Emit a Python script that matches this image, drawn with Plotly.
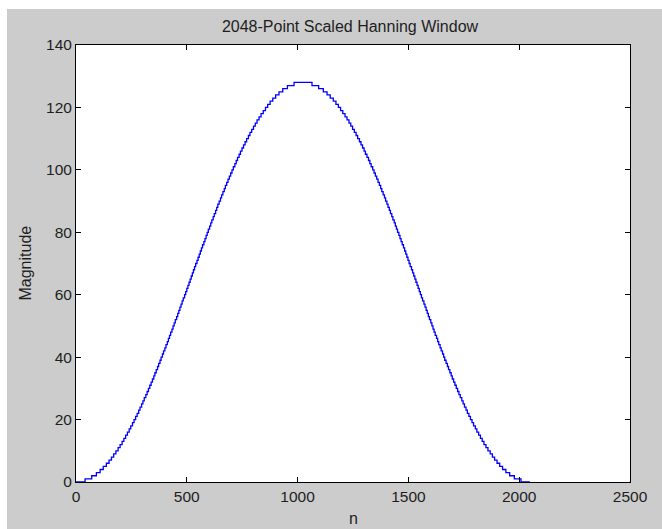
import plotly.graph_objects as go

# Sample index where each new (integer) magnitude level begins
step_n = [
    0, 41, 71, 92, 109, 123, 137, 149, 160, 170, 180, 190, 199, 208, 216, 224, 232, 240, 247, 255,
    262, 269, 276, 283, 289, 296, 302, 308, 315, 321, 327, 333, 339, 345, 351, 356, 362, 368, 373,
    379, 384, 390, 395, 401, 406, 412, 417, 422, 427, 433, 438, 443, 448, 454, 459, 464, 469, 474,
    479, 484, 490, 495, 500, 505, 510, 515, 520, 525, 530, 535, 540, 546, 551, 556, 561, 566, 571,
    577, 582, 587, 592, 597, 603, 608, 613, 619, 624, 630, 635, 640, 646, 652, 657, 663, 669, 674,
    680, 686, 692, 698, 704, 710, 717, 723, 729, 736, 742, 749, 756, 763, 770, 778, 785, 793, 801,
    809, 817, 826, 835, 845, 855, 865, 876, 888, 901, 916, 933, 954, 984,
    1065, 1095, 1116, 1133, 1147, 1161, 1173, 1184, 1194, 1204, 1214, 1223, 1232, 1240, 1248, 1256,
    1264, 1271, 1279, 1286, 1293, 1300, 1306, 1313, 1320, 1326, 1332, 1339, 1345, 1351, 1357, 1363,
    1369, 1375, 1380, 1386, 1392, 1397, 1403, 1408, 1414, 1419, 1425, 1430, 1436, 1441, 1446, 1451,
    1457, 1462, 1467, 1472, 1478, 1483, 1488, 1493, 1498, 1503, 1508, 1514, 1519, 1524, 1529, 1534,
    1539, 1544, 1549, 1554, 1559, 1564, 1570, 1575, 1580, 1585, 1590, 1595, 1601, 1606, 1611, 1616,
    1621, 1627, 1632, 1637, 1643, 1648, 1654, 1659, 1664, 1670, 1676, 1681, 1687, 1693, 1698, 1704,
    1710, 1716, 1722, 1728, 1734, 1741, 1747, 1753, 1760, 1766, 1773, 1780, 1787, 1794, 1802, 1809,
    1817, 1825, 1833, 1841, 1850, 1859, 1869, 1879, 1889, 1900, 1912, 1925, 1940, 1957, 1978, 2008,
    2048,
]

# Magnitude level held from the matching step_n onward
step_level = [
    0, 1, 2, 3, 4, 5, 6, 7, 8, 9, 10, 11, 12, 13, 14, 15, 16, 17, 18, 19,
    20, 21, 22, 23, 24, 25, 26, 27, 28, 29, 30, 31, 32, 33, 34, 35, 36, 37, 38,
    39, 40, 41, 42, 43, 44, 45, 46, 47, 48, 49, 50, 51, 52, 53, 54, 55, 56, 57,
    58, 59, 60, 61, 62, 63, 64, 65, 66, 67, 68, 69, 70, 71, 72, 73, 74, 75, 76,
    77, 78, 79, 80, 81, 82, 83, 84, 85, 86, 87, 88, 89, 90, 91, 92, 93, 94, 95,
    96, 97, 98, 99, 100, 101, 102, 103, 104, 105, 106, 107, 108, 109, 110, 111, 112, 113, 114,
    115, 116, 117, 118, 119, 120, 121, 122, 123, 124, 125, 126, 127, 128,
    127, 126, 125, 124, 123, 122, 121, 120, 119, 118, 117, 116, 115, 114, 113, 112,
    111, 110, 109, 108, 107, 106, 105, 104, 103, 102, 101, 100, 99, 98, 97, 96,
    95, 94, 93, 92, 91, 90, 89, 88, 87, 86, 85, 84, 83, 82, 81, 80,
    79, 78, 77, 76, 75, 74, 73, 72, 71, 70, 69, 68, 67, 66, 65, 64,
    63, 62, 61, 60, 59, 58, 57, 56, 55, 54, 53, 52, 51, 50, 49, 48,
    47, 46, 45, 44, 43, 42, 41, 40, 39, 38, 37, 36, 35, 34, 33, 32,
    31, 30, 29, 28, 27, 26, 25, 24, 23, 22, 21, 20, 19, 18, 17, 16,
    15, 14, 13, 12, 11, 10, 9, 8, 7, 6, 5, 4, 3, 2, 1, 0,
    0,
]

x_ticks = [0, 500, 1000, 1500, 2000, 2500]
y_ticks = [0, 20, 40, 60, 80, 100, 120, 140]

title_text = "2048-Point Scaled Hanning Window"
x_label = "n"
y_label = "Magnitude"

W, H = 662, 529
L, R, T, B = 76, 32, 45, 47
pw, ph = W - L - R, H - T - B
FONT = "Liberation Sans, Arial, sans-serif"
GRAY = "#cccccc"
TXT = "#1e1e1e"

fig = go.Figure()
fig.add_trace(go.Scatter(
    x=step_n, y=step_level, mode="lines",
    line=dict(color="#0000ff", width=1.3, shape="hv"),
    hoverinfo="skip", showlegend=False,
))

axis_common = dict(
    showgrid=False, zeroline=False, showline=True, linecolor="black", linewidth=1,
    mirror="ticks", ticks="inside", ticklen=5, tickcolor="black", tickwidth=1,
    tickfont=dict(family=FONT, size=15.5, color=TXT),
)
fig.update_xaxes(range=[0, 2500], tickvals=x_ticks, ticktext=[str(v) for v in x_ticks], **axis_common)
fig.update_yaxes(range=[0, 140], tickvals=y_ticks, ticktext=[str(v) for v in y_ticks], **axis_common)

# white strips at top and left edges (window border of the original screenshot)
fig.add_shape(type="rect", xref="paper", yref="paper",
              x0=-L / pw, x1=(W - L) / pw, y0=1 + (T - 9) / ph, y1=1 + T / ph + 0.01,
              fillcolor="white", line_width=0, layer="below")
fig.add_shape(type="rect", xref="paper", yref="paper",
              x0=-L / pw - 0.01, x1=(7 - L) / pw, y0=-B / ph - 0.01, y1=1 + T / ph + 0.01,
              fillcolor="white", line_width=0, layer="below")

fig.add_annotation(text=x_label, xref="paper", yref="paper", x=0.5, y=-(518 - T - ph) / ph,
                   showarrow=False, font=dict(family=FONT, size=16, color=TXT),
                   xanchor="center", yanchor="middle")
fig.add_annotation(text=y_label, xref="paper", yref="paper", x=-(L - 25) / pw, y=0.5,
                   textangle=-90, showarrow=False, font=dict(family=FONT, size=16, color=TXT),
                   xanchor="center", yanchor="middle")

fig.update_layout(
    width=W, height=H,
    margin=dict(l=L, r=R, t=T, b=B, pad=0),
    paper_bgcolor=GRAY, plot_bgcolor="white",
    title=dict(text=title_text, x=350 / W, xanchor="center",
               y=1 - 26 / H, yanchor="middle", yref="container",
               font=dict(family=FONT, size=16, color=TXT)),
    showlegend=False,
)

fig.write_html("out.html")
